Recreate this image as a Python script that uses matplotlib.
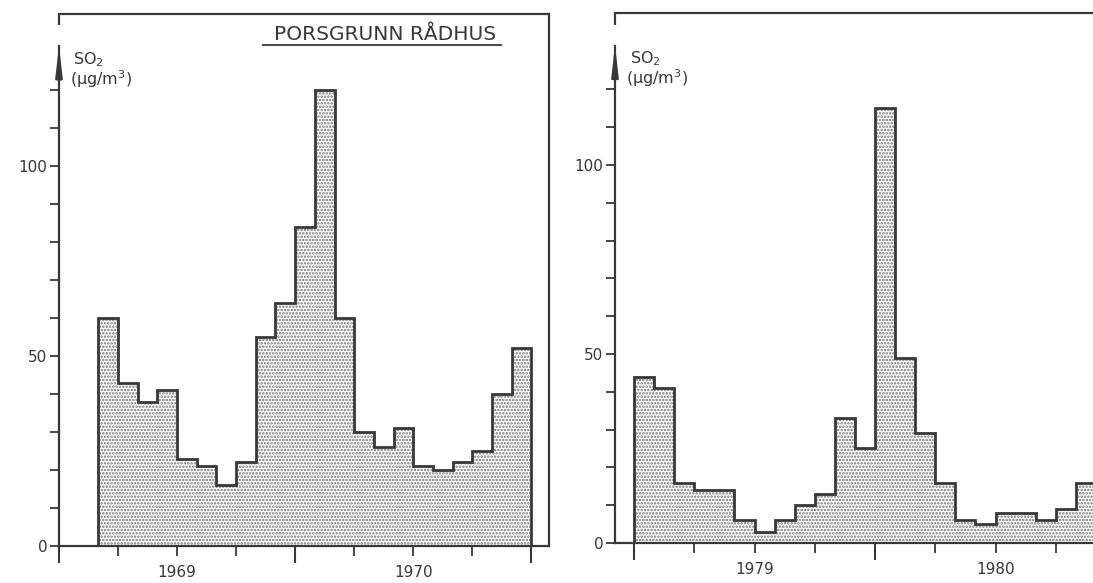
import numpy as np
import matplotlib.pyplot as plt
from matplotlib.ticker import FixedLocator, NullFormatter, FixedFormatter

plt.rcParams['font.family'] = ['DejaVu Sans', 'Noto Sans']
plt.rcParams['hatch.color'] = '#777777'
plt.rcParams['hatch.linewidth'] = 1.2

# monthly mean SO2 (ug/m3), Porsgrunn Rådhus
# month edges counted from January of the first labelled year
edges_6970 = np.arange(2, 25)
so2_6970 = [60, 43, 38, 41, 23, 21, 16, 22, 55, 64, 84, 120,
            60, 30, 26, 31, 21, 20, 22, 25, 40, 52]
edges_7980 = np.arange(0, 24)
so2_7980 = [44, 41, 16, 14, 14, 6, 3, 6, 10, 13, 33, 25,
            115, 49, 29, 16, 6, 5, 8, 8, 6, 9, 16]
years_6970 = ['1969', '1970']
years_7980 = ['1979', '1980']
station = 'PORSGRUNN RÅDHUS'

ink = '#383838'
W, H = 1093, 583

fig = plt.figure(figsize=(W / 100, H / 100), dpi=100)


def make_axes(x0, x1, y_bottom, y_top):
    # pixel box -> figure fraction
    return fig.add_axes([x0 / W, (H - y_bottom) / H, (x1 - x0) / W, (y_bottom - y_top) / H])


def draw_panel(ax, edges, values, years, xlim, ylim):
    ax.stairs(values, edges, fill=True, facecolor='white', hatch='.....')
    ax.stairs(values, edges, color=ink, linewidth=2.0)

    ax.set_xlim(*xlim)
    ax.set_ylim(*ylim)

    for s in ax.spines.values():
        s.set_color(ink)
        s.set_linewidth(1.6)
    ax.spines['left'].set_bounds(0, 131.5)

    # arrow head on the y axis and the short frame piece above it
    ax.annotate('', xy=(xlim[0], 131.5), xytext=(xlim[0], 124),
                arrowprops=dict(arrowstyle='-|>,head_length=1.7,head_width=0.2',
                                color=ink, lw=1.6, shrinkA=0, shrinkB=0),
                annotation_clip=False)
    ax.vlines(xlim[0], 137, ylim[1], color=ink, lw=1.6, clip_on=False)

    # x axis: long ticks at new year, short ticks each quarter
    ax.xaxis.set_major_locator(FixedLocator([0, 12, 24]))
    ax.xaxis.set_major_formatter(NullFormatter())
    ax.xaxis.set_minor_locator(FixedLocator([3, 6, 9, 15, 18, 21]))
    ax.xaxis.set_minor_formatter(FixedFormatter(['', years[0], '', '', years[1], '']))
    ax.tick_params(axis='x', which='major', length=12, width=1.5, color=ink)
    ax.tick_params(axis='x', which='minor', length=7.5, width=1.3, color=ink,
                   pad=6, labelsize=11, labelcolor=ink)

    ax.yaxis.set_major_locator(FixedLocator([0, 50, 100]))
    ax.yaxis.set_minor_locator(FixedLocator([10, 20, 30, 40, 60, 70, 80, 90, 110, 120]))
    ax.tick_params(axis='y', which='both', length=6.5, width=1.3, color=ink,
                   pad=2, labelsize=11, labelcolor=ink)

    ax.text(0.029, 0.905, 'SO$_2$', transform=ax.transAxes, fontsize=11.5,
            color=ink, ha='left', va='baseline')
    ax.text(0.022, 0.866, '(μg/m$^3$)', transform=ax.transAxes, fontsize=11.5,
            color=ink, ha='left', va='baseline')


ax1 = make_axes(59, 549, 546, 14)
draw_panel(ax1, edges_6970, so2_6970, years_6970, (0, 24.9), (0, 140))
ax1.text(0.665, 0.962, station, transform=ax1.transAxes, fontsize=14.5,
         color=ink, ha='center', va='center')
ax1.plot([0.416, 0.902], [0.942, 0.942], transform=ax1.transAxes,
         color=ink, lw=1.3, clip_on=False)

ax2 = make_axes(615, 1120, 543, 13)
draw_panel(ax2, edges_7980, so2_7980, years_7980, (-0.95, 24.2), (0, 140.2))

fig.savefig('out.png', dpi=100)
